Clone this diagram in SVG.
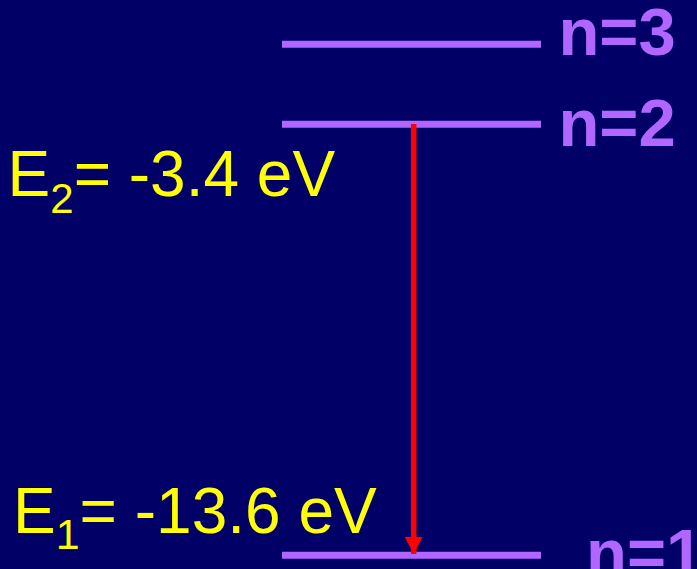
<svg xmlns="http://www.w3.org/2000/svg" width="697" height="569" viewBox="0 0 697 569">
  <style>
    .lvl { stroke: #B066FF; stroke-width: 7; }
    .nlab { font-family: "Liberation Sans", Arial, sans-serif; font-weight: bold; font-size: 67px; fill: #B066FF; }
    .elab { font-family: "Liberation Sans", Arial, sans-serif; font-size: 64px; fill: #FFFF00; }
  </style>
  <defs>
    <marker id="ah" markerUnits="userSpaceOnUse" markerWidth="18" markerHeight="18" refX="17" refY="9" orient="auto">
      <path d="M0,0 L17,9 L0,18 Z" fill="#FF0000"/>
    </marker>
  </defs>
  <rect x="0" y="0" width="697" height="569" fill="#000066"/>
  <g id="level3">
    <line class="lvl" x1="282" y1="44.3" x2="541" y2="44.3"/>
    <text class="nlab" x="558.4" y="55">n=3</text>
  </g>
  <g id="level2">
    <line class="lvl" x1="282" y1="124.3" x2="541" y2="124.3"/>
    <text class="nlab" x="558.4" y="146">n=2</text>
    <text class="elab" x="7.6" y="196">E<tspan font-size="42" dy="17">2</tspan><tspan dy="-17">= -3.4 eV</tspan></text>
  </g>
  <g id="level1">
    <line class="lvl" x1="282" y1="555.3" x2="541" y2="555.3"/>
    <text class="nlab" x="586" y="576">n=1</text>
    <text class="elab" x="13" y="532.7">E<tspan font-size="43" dy="16.5">1</tspan><tspan dy="-16.5">= -13.6 eV</tspan></text>
  </g>
  <g id="connectors">
    <line x1="413.7" y1="124" x2="413.7" y2="554" stroke="#FF0000" stroke-width="5.5" marker-end="url(#ah)"/>
  </g>
</svg>
